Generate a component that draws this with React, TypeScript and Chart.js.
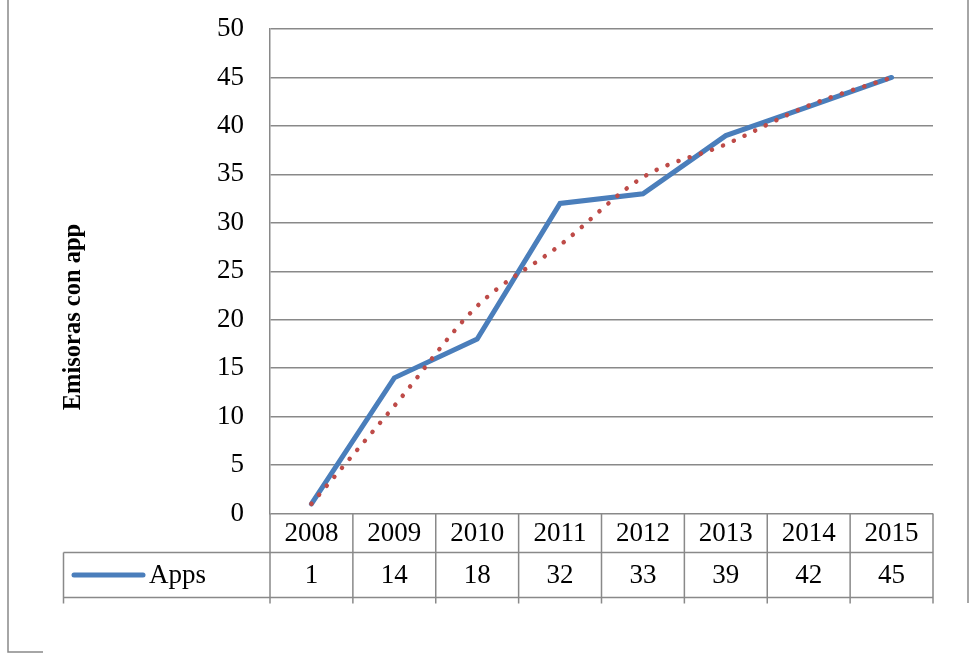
import React, { useEffect, useRef } from "react";
import { Chart, registerables } from "chart.js";

Chart.register(...registerables);

const years = ["2008", "2009", "2010", "2011", "2012", "2013", "2014", "2015"];
const apps = [1, 14, 18, 32, 33, 39, 42, 45];
const trend = [1.0, 11.1, 21.4, 27.7, 34.7, 38.1, 42.1, 45.0];
const yMin = 0;
const yMax = 50;
const yStep = 5;
const seriesName = "Apps";
const yTitle = "Emisoras con app";

const FONT = "'Liberation Serif', 'Times New Roman', serif";
const GRID = "#898989";
const BLUE = "#4a7ebb";
const RED = "#be4b48";

const tablePlugin = {
  id: "dataTable",
  afterDraw(chart: any) {
    const ctx = chart.ctx;
    const area = chart.chartArea;
    const xs = chart.scales.x;
    const n = years.length;
    const w = (area.right - area.left) / n;
    const row1 = area.bottom + 39;
    const row2 = row1 + 45;
    const tickEnd = row2 + 6;
    const legendLeft = 63.5;

    ctx.save();
    ctx.strokeStyle = GRID;
    ctx.lineWidth = 1.5;
    ctx.beginPath();
    for (let i = 0; i <= n; i++) {
      const x = area.left + i * w;
      ctx.moveTo(x, area.bottom);
      ctx.lineTo(x, tickEnd);
    }
    ctx.moveTo(legendLeft, row1);
    ctx.lineTo(legendLeft, tickEnd);
    ctx.moveTo(legendLeft, row1);
    ctx.lineTo(area.right, row1);
    ctx.moveTo(legendLeft, row2);
    ctx.lineTo(area.right, row2);
    ctx.moveTo(8, 0);
    ctx.lineTo(8, 652);
    ctx.lineTo(43, 652);
    ctx.moveTo(968, 0);
    ctx.lineTo(968, 603);
    ctx.stroke();

    ctx.fillStyle = "#000";
    ctx.font = `27px ${FONT}`;
    ctx.textAlign = "center";
    ctx.textBaseline = "middle";
    for (let i = 0; i < n; i++) {
      const x = xs.getPixelForValue(i);
      ctx.fillText(years[i], x, (area.bottom + row1) / 2 + 1);
      ctx.fillText(String(apps[i]), x, (row1 + row2) / 2 + 1);
    }

    const ly = (row1 + row2) / 2;
    ctx.strokeStyle = BLUE;
    ctx.lineWidth = 5;
    ctx.lineCap = "round";
    ctx.beginPath();
    ctx.moveTo(74, ly);
    ctx.lineTo(143, ly);
    ctx.stroke();
    ctx.textAlign = "left";
    ctx.fillText(seriesName, 149, ly + 1);

    ctx.translate(74, 317);
    ctx.rotate(-Math.PI / 2);
    ctx.font = `bold 24.5px ${FONT}`;
    ctx.textAlign = "center";
    ctx.fillText(yTitle, 0, 0);
    ctx.restore();
  },
};

export default function App() {
  const ref = useRef<HTMLCanvasElement | null>(null);

  useEffect(() => {
    if (!ref.current) return;
    const chart = new Chart(ref.current, {
      type: "line",
      data: {
        labels: years,
        datasets: [
          {
            label: "Tendencia",
            data: trend,
            borderColor: RED,
            backgroundColor: RED,
            borderWidth: 4.5,
            borderDash: [0.1, 11.7],
            borderCapStyle: "round",
            cubicInterpolationMode: "monotone",
            pointRadius: 0,
            fill: false,
            order: 0,
          },
          {
            label: seriesName,
            data: apps,
            borderColor: BLUE,
            backgroundColor: BLUE,
            borderWidth: 5,
            borderCapStyle: "round",
            tension: 0,
            pointRadius: 0,
            fill: false,
            order: 1,
          },
        ],
      },
      options: {
        animation: false,
        responsive: false,
        layout: { padding: { left: 0, top: 29, right: 36, bottom: 139.5 } },
        plugins: {
          legend: { display: false },
          tooltip: { enabled: false },
          title: { display: false },
        },
        scales: {
          x: {
            type: "category",
            offset: true,
            display: false,
          },
          y: {
            min: yMin,
            max: yMax,
            afterFit(scale: any) {
              scale.width = 270;
              scale.paddingTop = 0;
              scale.paddingBottom = 0;
            },
            ticks: {
              stepSize: yStep,
              color: "#000",
              padding: 26,
              font: { family: FONT, size: 27 },
            },
            grid: {
              color: GRID,
              lineWidth: 1.5,
              drawTicks: false,
            },
            border: { display: true, color: GRID, width: 1.5 },
          },
        },
      },
      plugins: [tablePlugin],
    });
    return () => chart.destroy();
  }, []);

  return (
    <div style={{ position: "fixed", left: 0, top: 0, width: 969, height: 653, background: "#fff" }}>
      <canvas ref={ref} width={969} height={653} style={{ display: "block" }} />
    </div>
  );
}
